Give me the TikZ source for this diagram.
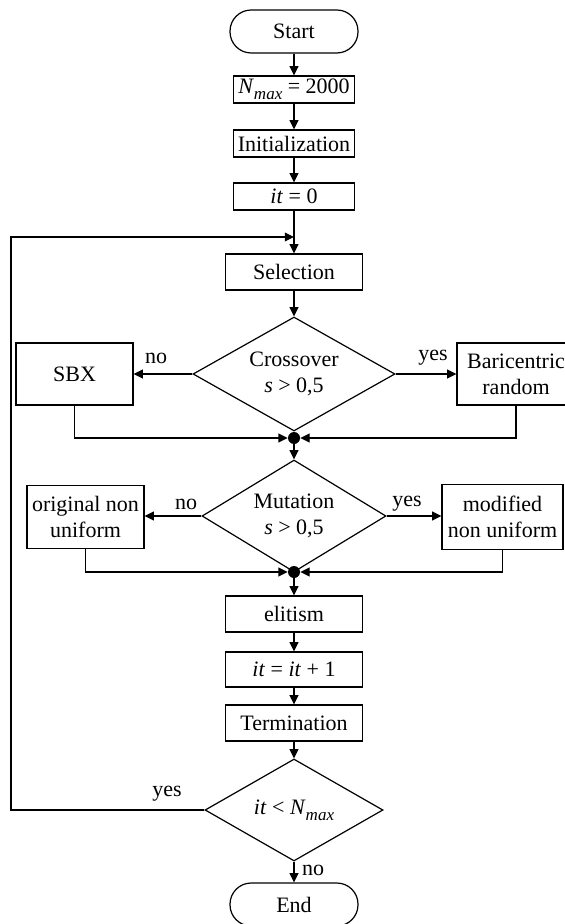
\documentclass[tikz,border=0pt]{standalone}
\usepackage{fontspec}
\setmainfont{Liberation Serif}
\usetikzlibrary{shapes.geometric,arrows.meta}
\newcommand{\Nmax}{\textit{N}\raisebox{-3.2pt}{\fontsize{8.5}{8.5}\selectfont\textit{max}}}
\begin{document}
\begin{tikzpicture}[x=0.5pt,y=-0.5pt,
  every node/.style={font=\fontsize{11}{13}\selectfont},
  box/.style={draw, line width=0.6pt, inner sep=0pt, align=center},
  term/.style={box, rounded corners=10.6pt, minimum width=64pt, minimum height=21.5pt},
  ubox/.style={box, minimum width=60.5pt, minimum height=13.5pt},
  lbox/.style={box, minimum width=68.5pt, minimum height=18pt},
  dia/.style={draw, line width=0.6pt, diamond, aspect=2, inner sep=0pt, align=center},
  dot/.style={circle, fill=black, inner sep=0pt, minimum size=6pt},
  lbl/.style={inner sep=0pt},
  arr/.style={-{Triangle[length=4.6pt,width=4.4pt]}, line width=0.6pt},
  ln/.style={line width=0.6pt}
]
\useasboundingbox (0,0) rectangle (565,924);

\node[term] (start) at (294,31.5) {Start};
\node[ubox] (nmax) at (294,89.5) {\Nmax\ = 2000};
\node[ubox] (init) at (294,143.5) {Initialization};
\node[ubox] (it0) at (294,196.5) {\textit{it} = 0};
\node[lbox] (sel) at (294,272) {Selection};
\node[dia, minimum width=101pt, minimum height=57pt] (cross) at (294,374) {Crossover\\\textit{s} > 0,5};
\node[box, minimum width=58.5pt, minimum height=31pt] (sbx) at (74.5,374) {SBX};
\node[box, minimum width=59pt, minimum height=31pt] (bari) at (516,374) {Baricentric\\random};
\node[dot] (d1) at (294,438) {};
\node[dia, minimum width=92pt, minimum height=56pt] (mut) at (294,516) {Mutation\\\textit{s} > 0,5};
\node[box, minimum width=58.5pt, minimum height=31.5pt] (orig) at (85.5,517) {original non\\uniform};
\node[box, minimum width=60.5pt, minimum height=32.5pt] (mod) at (502.5,517) {modified\\non uniform};
\node[dot] (d2) at (294,572) {};
\node[lbox] (elit) at (294,614) {elitism};
\node[lbox, minimum height=17.5pt] (it1) at (294,669.5) {\textit{it} = \textit{it} + 1};
\node[lbox] (termn) at (294,723) {Termination};
\node[dia, minimum width=89pt, minimum height=51pt] (fin) at (294,810) {\textit{it} < \Nmax};
\node[term] (end) at (294,904.5) {End};

\coordinate (j0) at (294,237);
\coordinate (lc) at (11,237);

\draw[arr] (start) -- (nmax);
\draw[arr] (nmax) -- (init);
\draw[arr] (init) -- (it0);
\draw[arr] (it0) -- (sel);
\draw[arr] (sel) -- (cross.north);
\draw[arr] (cross.west) -- (cross.west -| sbx.east);
\draw[arr] (cross.east) -- (cross.east -| bari.west);
\draw[arr] (sbx.south) |- (d1.west);
\draw[arr] (bari.south) |- (d1.east);
\draw[ln] (cross.south) -- (d1.north);
\draw[arr] (d1) -- (mut.north);
\draw[arr] (mut.west) -- (mut.west -| orig.east);
\draw[arr] (mut.east) -- (mut.east -| mod.west);
\draw[arr] (orig.south) |- (d2.west);
\draw[arr] (mod.south) |- (d2.east);
\draw[ln] (mut.south) -- (d2.north);
\draw[arr] (d2) -- (elit);
\draw[arr] (elit) -- (it1);
\draw[arr] (it1) -- (termn);
\draw[arr] (termn) -- (fin.north);
\draw[arr] (fin.south) -- (end.north);
\draw[arr] (fin.west) -| (lc) -- (j0);

\node[lbl] (l1) at (156,358) {no};
\node[lbl] (l2) at (433,358) {yes};
\node[lbl] (l3) at (186,504) {no};
\node[lbl] (l4) at (407,504) {yes};
\node[lbl] (l5) at (167,794) {yes};
\node[lbl] (l6) at (313,870) {no};
\end{tikzpicture}
\end{document}
